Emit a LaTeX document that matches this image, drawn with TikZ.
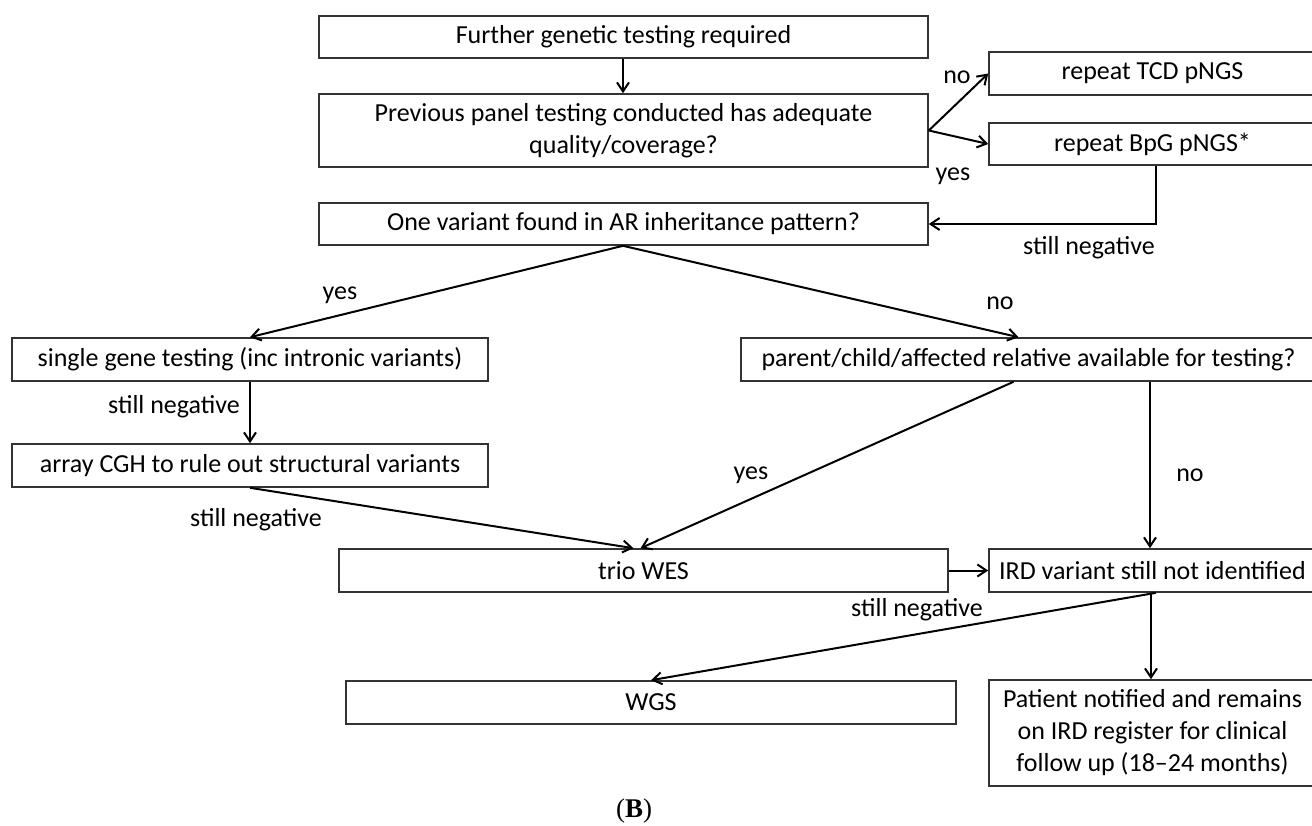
\documentclass[tikz,border=0pt]{standalone}
\usepackage{fontspec}
\setmainfont{Carlito}
\newfontfamily\capfont{Liberation Serif}
\usetikzlibrary{arrows.meta,calc}
\begin{document}
\begin{tikzpicture}[x=1pt,y=-1pt,
 box/.style={draw=black!80, line width=1.6pt, inner sep=0pt, align=center, font=\fontsize{26}{32}\selectfont, text=black},
 lbl/.style={inner sep=0pt, font=\fontsize{26}{32}\selectfont, text=black},
 arr/.style={line width=2pt, draw=black, -{Straight Barb[length=9pt,width=12pt]}},
]
\useasboundingbox (0,0) rectangle (1312,825);
\node[box, minimum width=609pt, minimum height=42pt] (b1) at (623.5,37) {Further genetic testing required};
\node[box, minimum width=609pt, minimum height=73pt] (b2) at (623.5,130.5) {Previous panel testing conducted has adequate\\quality/coverage?};
\node[box, minimum width=327pt, minimum height=43pt] (b3) at (1152.5,73.5) {repeat TCD pNGS};
\node[box, minimum width=327pt, minimum height=42pt] (b4) at (1152.5,144) {repeat BpG pNGS*};
\node[box, minimum width=609pt, minimum height=42pt] (b5) at (623.5,224) {One variant found in AR inheritance pattern?};
\node[box, minimum width=476pt, minimum height=43pt] (b6) at (250,359.5) {single gene testing (inc intronic variants)};
\node[box, minimum width=575pt, minimum height=43pt] (b7) at (1028.5,359.5) {parent/child/affected relative available for testing?};
\node[box, minimum width=476pt, minimum height=43pt] (b8) at (250,465.5) {array CGH to rule out structural variants};
\node[box, minimum width=609pt, minimum height=43pt] (b9) at (643.5,570.5) {trio WES};
\node[box, minimum width=327pt, minimum height=43pt] (b10) at (1152.5,570.5) {IRD variant still not identified};
\node[box, minimum width=610pt, minimum height=43pt] (b11) at (651,702.5) {WGS};
\node[box, minimum width=327pt, minimum height=106pt] (b12) at (1152.5,733) {Patient notified and remains\\on IRD register for clinical\\follow up (18--24 months)};

\coordinate (c4) at (1156,224);
\draw[arr] ([xshift=-0.5pt]b1.south) -- ([xshift=-0.5pt]b2.north);
\draw[arr] (b2.east) -- (b3.west);
\draw[arr] (b2.east) -- (b4.west);
\draw[arr] (b4.south -| c4) -- (c4) -- (b5.east);
\draw[arr] ([xshift=-0.5pt]b5.south) -- (b6.north);
\draw[arr] ([xshift=-0.5pt]b5.south) -- ([xshift=-10pt]b7.north);
\draw[arr] (b6) -- (b8);
\draw[arr] (b8.south) -- ([xshift=-10pt]b9.north);
\draw[arr] ([xshift=-15pt]b7.south) -- ([xshift=-3pt]b9.north);
\draw[arr] ([xshift=121.5pt]b7.south) -- ([xshift=-2.5pt]b10.north);
\draw[arr] (b9) -- (b10);
\draw[arr] ([xshift=3.5pt]b10.south) -- (b11.north);
\draw[arr] ([xshift=-1.5pt]b10.south) -- ([xshift=-1.5pt]b12.north);

\node[lbl] (l1) at (957,77) {no};
\node[lbl] (l2) at (953,176) {yes};
\node[lbl] (l3) at (1089,248) {still negative};
\node[lbl] (l4) at (340,295) {yes};
\node[lbl] (l5) at (1000,303) {no};
\node[lbl] (l6) at (174,407) {still negative};
\node[lbl] (l7) at (256,520) {still negative};
\node[lbl] (l8) at (751,475) {yes};
\node[lbl] (l9) at (1190,475) {no};
\node[lbl] (l10) at (917,610) {still negative};
\node[inner sep=0pt, font=\capfont\fontsize{27}{30}\selectfont] (cap) at (634,811) {(\textbf{B})};
\end{tikzpicture}
\end{document}
